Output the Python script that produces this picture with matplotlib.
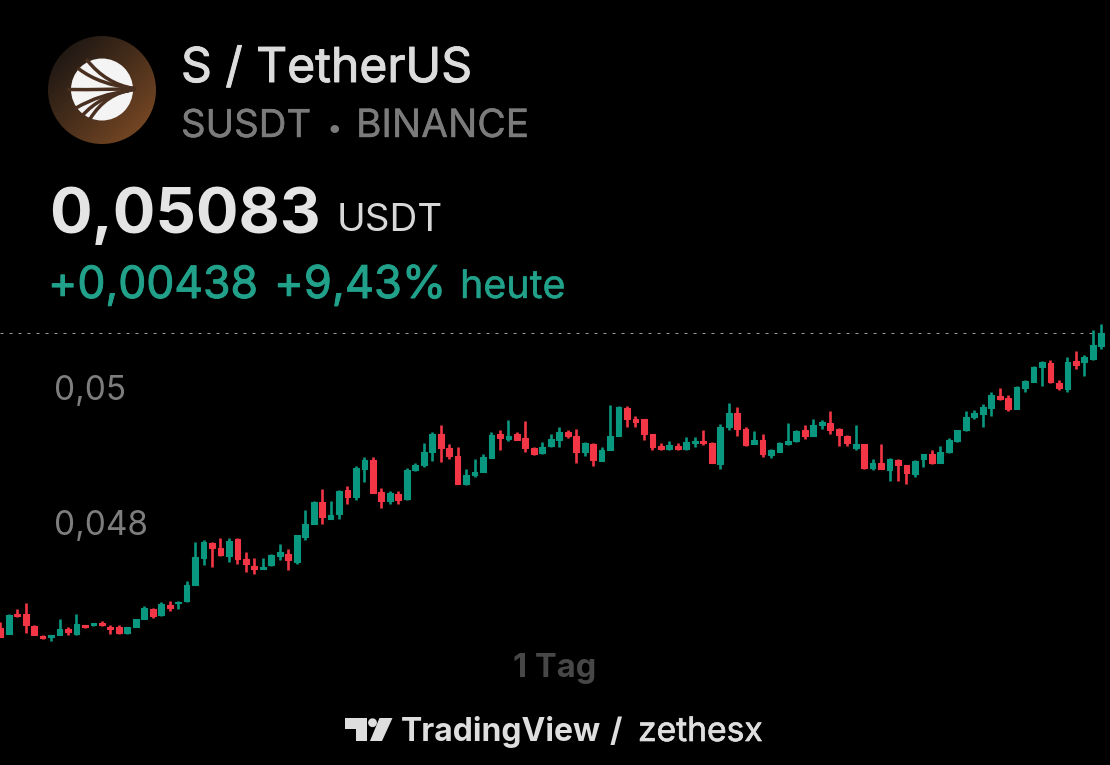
import matplotlib
matplotlib.use('Agg')
import matplotlib.pyplot as plt
import matplotlib.patheffects as pe
import numpy as np
from matplotlib.patches import Circle, Polygon, PathPatch
from matplotlib.path import Path

plt.rcParams['font.family'] = ['Inter', 'DejaVu Sans']

# prices in units of 0.00001 USDT
opens = [4646, 4637, 4667, 4666, 4649, 4634, 4633, 4636, 4645, 4637, 4650, 4650, 4653, 4648, 4647, 4638, 4648, 4660, 4674, 4665,
         4680, 4683, 4686, 4709, 4750, 4772, 4764, 4753, 4778, 4748, 4738, 4733, 4739, 4753, 4755, 4744, 4781, 4800, 4833, 4808,
         4815, 4850, 4840, 4881, 4895, 4848, 4834, 4845, 4837, 4880, 4887, 4907, 4933, 4913, 4901, 4859, 4873, 4877, 4898, 4934,
         4926, 4933, 4928, 4912, 4905, 4915, 4924, 4937, 4931, 4907, 4919, 4894, 4910, 4931, 4972, 4955, 4955, 4933, 4916, 4911,
         4916, 4911, 4920, 4923, 4920, 4889, 4943, 4964, 4941, 4919, 4924, 4902, 4907, 4918, 4923, 4939, 4931, 4946, 4949, 4941,
         4931, 4912, 4918, 4883, 4890, 4880, 4895, 4887, 4874, 4896, 4904, 4891, 4906, 4923, 4939, 4958, 4963, 4972, 4990, 4987,
         4970, 5001, 5010, 5032, 5039, 5009, 5000, 5042, 5040, 5044, 5064]
highs = [4655, 4666, 4674, 4683, 4651, 4635, 4636, 4659, 4647, 4666, 4651, 4654, 4656, 4650, 4650, 4648, 4660, 4679, 4675, 4684,
         4686, 4686, 4716, 4774, 4776, 4774, 4780, 4779, 4779, 4758, 4750, 4749, 4756, 4770, 4763, 4784, 4821, 4834, 4852, 4834,
         4850, 4857, 4886, 4900, 4900, 4854, 4849, 4849, 4883, 4890, 4920, 4936, 4947, 4918, 4914, 4881, 4896, 4903, 4937, 4940,
         4954, 4937, 4952, 4914, 4921, 4934, 4944, 4940, 4941, 4921, 4920, 4914, 4976, 4975, 4975, 4960, 4956, 4934, 4920, 4923,
         4920, 4929, 4929, 4939, 4922, 4948, 4980, 4973, 4944, 4938, 4933, 4911, 4921, 4950, 4939, 4946, 4956, 4954, 4967, 4942,
         4932, 4947, 4919, 4897, 4918, 4898, 4896, 4888, 4895, 4904, 4910, 4916, 4927, 4940, 4967, 4969, 4978, 4996, 5001, 4991,
         5004, 5014, 5034, 5042, 5043, 5013, 5047, 5056, 5050, 5088, 5096]
lows = [4633, 4637, 4662, 4639, 4635, 4630, 4627, 4636, 4635, 4636, 4646, 4649, 4649, 4637, 4637, 4637, 4647, 4659, 4661, 4664,
        4671, 4674, 4685, 4709, 4739, 4737, 4753, 4744, 4741, 4729, 4726, 4733, 4738, 4746, 4732, 4741, 4777, 4800, 4800, 4807,
        4808, 4829, 4835, 4862, 4846, 4824, 4829, 4830, 4836, 4879, 4884, 4894, 4892, 4897, 4860, 4858, 4870, 4877, 4898, 4910,
        4923, 4924, 4906, 4902, 4904, 4914, 4914, 4928, 4891, 4901, 4886, 4893, 4909, 4931, 4944, 4944, 4924, 4910, 4910, 4910,
        4910, 4910, 4914, 4917, 4890, 4882, 4939, 4931, 4915, 4918, 4900, 4898, 4906, 4917, 4922, 4926, 4930, 4941, 4933, 4916,
        4916, 4909, 4881, 4880, 4881, 4864, 4864, 4860, 4869, 4884, 4889, 4890, 4905, 4922, 4938, 4955, 4944, 4960, 4983, 4967,
        4970, 4996, 5010, 5004, 5009, 4999, 4996, 5030, 5019, 5043, 5059]
closes = [4633, 4665, 4663, 4650, 4636, 4631, 4636, 4644, 4640, 4652, 4647, 4653, 4650, 4645, 4638, 4647, 4659, 4675, 4664, 4681,
          4676, 4685, 4710, 4751, 4773, 4765, 4754, 4775, 4748, 4741, 4733, 4737, 4754, 4758, 4747, 4783, 4800, 4833, 4811, 4814,
          4849, 4840, 4883, 4895, 4846, 4834, 4846, 4835, 4880, 4887, 4907, 4934, 4913, 4901, 4860, 4873, 4877, 4899, 4932, 4927,
          4931, 4925, 4913, 4903, 4914, 4926, 4937, 4931, 4906, 4920, 4895, 4910, 4930, 4974, 4956, 4951, 4933, 4914, 4911, 4917,
          4911, 4922, 4923, 4920, 4891, 4944, 4964, 4941, 4917, 4924, 4903, 4910, 4920, 4923, 4938, 4931, 4946, 4951, 4940, 4932,
          4920, 4919, 4883, 4890, 4882, 4897, 4888, 4875, 4894, 4903, 4890, 4907, 4924, 4939, 4959, 4965, 4973, 4991, 4985, 4970,
          5003, 5012, 5032, 5040, 5010, 5002, 5040, 5036, 5047, 5065, 5083]

tick_values = [0.05, 0.048]
tick_labels = ['0,05', '0,048']
last_price = 0.05083

GREEN = '#0a977f'
RED = '#f23645'

o = np.array(opens) / 1e5
h = np.array(highs) / 1e5
l = np.array(lows) / 1e5
c = np.array(closes) / 1e5
x = np.arange(len(o))
colors = [GREEN if cl >= op else RED for op, cl in zip(o, c)]

fig = plt.figure(figsize=(11.1, 7.65), dpi=100, facecolor='black')

# candles, axes fills the whole picture
ax = fig.add_axes([0, 0, 1, 1])
ax.set_facecolor('black')
ax.set_xlim(-0.03, 131.03)
ax.set_ylim(0.04443, 0.055763)
ax.axis('off')

ax.plot([-0.03, 129.6], [last_price, last_price], color='#9a9a9a', lw=0.72, ls=(0, (3, 6)), zorder=1)
ax.vlines(x, l, h, colors=colors, lw=1.9, zorder=2)
ax.bar(x, np.abs(c - o), bottom=np.minimum(o, c), width=0.68, color=colors, edgecolor=colors,
       lw=0.8, joinstyle='round', zorder=3)

# everything else in picture pixels
ov = fig.add_axes([0, 0, 1, 1])
ov.set_xlim(0, 1110)
ov.set_ylim(765, 0)
ov.axis('off')
ov.patch.set_alpha(0)

def txt(px, py, s, size, color, weight='normal', stroke=0):
    t = ov.text(px, py, s, fontsize=size, color=color, fontweight=weight, ha='left', va='baseline')
    if stroke:
        t.set_path_effects([pe.withStroke(linewidth=stroke, foreground=color)])

txt(181, 82, 'S / TetherUS', 34.6, '#dcdcdc', stroke=0.7)
txt(181, 137, 'SUSDT', 27.6, '#7b7b7b', stroke=0.3)
txt(327, 137, '•', 20, '#7b7b7b')
txt(356, 137, 'BINANCE', 28, '#7b7b7b', stroke=0.3)
txt(49, 233, '0,05083', 45.6, '#e4e4e4', 'bold')
txt(337, 231, 'USDT', 27.8, '#d8d8d8')
txt(48, 298, '+0,00438', 32, '#21a08a', stroke=0.7)
txt(274, 298, '+9,43%', 32.5, '#21a08a', stroke=0.7)
txt(460, 298, 'heute', 28.4, '#21a08a', stroke=0.3)
for val, lab in zip(tick_values, tick_labels):
    py = 389 + (0.05 - val) * 135 / 0.002 + 11
    txt(54, py, lab, 24, '#7d7d7d')
txt(513, 677, '1 Tag', 23.5, '#474747', 'bold')
txt(401, 741, 'TradingView', 23, '#dedede', 'bold')
txt(610, 741, '/', 23, '#dedede', 'bold')
txt(638, 741, 'zethesx', 24.2, '#dedede', stroke=0.5)

# TradingView mark
ov.add_patch(Polygon([(345, 718), (367, 718), (367, 741), (356, 741), (356, 728.5), (345, 728.5)], fc='#dedede', ec='none'))
ov.add_patch(Circle((372.5, 722.7), 4.4, fc='#dedede', ec='none'))
ov.add_patch(Polygon([(379.5, 718), (392.5, 718), (382, 741), (370, 741)], fc='#dedede', ec='none'))

# coin logo, gradient disc
grad = np.linspace(0, 1, 200)
gx, gy = np.meshgrid(grad, grad)
t = (gx + gy) / 2
dark = np.array([0.08, 0.07, 0.07])
brown = np.array([0.52, 0.31, 0.15])
img = dark + (brown - dark) * np.clip(t, 0, 1)[..., None] ** 1.1
im = ov.imshow(img, extent=(48, 156, 144, 36), zorder=2, aspect='auto')
im.set_clip_path(Circle((102, 90), 54, transform=ov.transData))
ov.set_xlim(0, 1110)
ov.set_ylim(765, 0)

ov.add_patch(Circle((102, 89.5), 31, fc='#f4f4f4', ec='none', zorder=3))
streaks = [
    [(134, 88.5), (106, 84), (87, 60)],
    [(134, 88.5), (100, 85), (79, 69)],
    [(134, 88.5), (105, 90), (69, 89.5)],
    [(134, 89.5), (106, 93), (90, 119)],
    [(134, 89.5), (100, 95), (82, 116)],
    [(128, 91), (100, 94), (76, 108)],
]
for p in streaks:
    path = Path(p, [Path.MOVETO, Path.CURVE3, Path.CURVE3])
    ov.add_patch(PathPatch(path, fc='none', ec='#4a3020', lw=2.5, zorder=4, capstyle='round'))

fig.savefig('out.png', dpi=100, facecolor='black')
plt.close('all')
